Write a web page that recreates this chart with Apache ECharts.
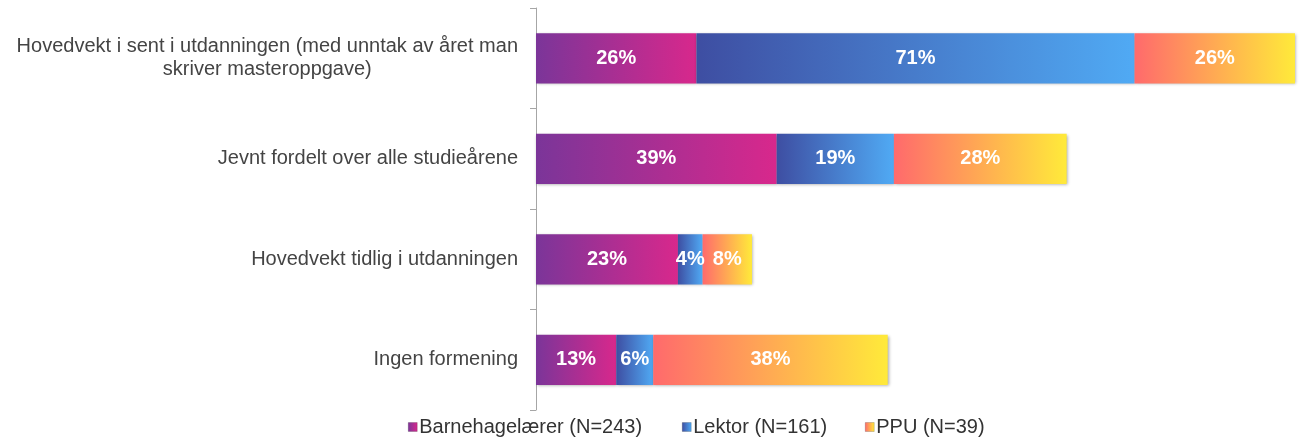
<!DOCTYPE html>
<html>
<head>
<meta charset="utf-8">
<script src="https://cdn.jsdelivr.net/npm/echarts@6/dist/echarts.min.js"></script>
<style>html,body{margin:0;padding:0;background:#fff;}#c{width:1300px;height:440px;}</style>
</head>
<body>
<div id="c"></div>
<script>
const categories = [
  'Hovedvekt i sent i utdanningen (med unntak av året man\nskriver masteroppgave)',
  'Jevnt fordelt over alle studieårene',
  'Hovedvekt tidlig i utdanningen',
  'Ingen formening'
];
const seriesNames = ['Barnehagelærer (N=243)', 'Lektor (N=161)', 'PPU (N=39)'];
const barnehage = [26, 39, 23, 13];
const lektor = [71, 19, 4, 6];
const ppu = [26, 28, 8, 38];

const FONT = 'Liberation Sans, Arial, sans-serif';
const FS = 20;
const canvas = document.createElement('canvas');
const ctx = canvas.getContext('2d');
ctx.font = FS + 'px "Liberation Sans"';
function tw(s){ return ctx.measureText(s).width; }

function grad(c1, c2){
  return new echarts.graphic.LinearGradient(0, 0, 1, 0, [
    {offset: 0, color: c1}, {offset: 1, color: c2}
  ]);
}
const colors = [
  grad('#7B3599', '#D8288C'),
  grad('#3E4EA2', '#50AAF4'),
  grad('#FF6A6C', '#FFEA3A')
];

const chart = echarts.init(document.getElementById('c'), null, {renderer: 'canvas'});
const dataSets = [barnehage, lektor, ppu];
const legendLeft = [403, 677, 860];

const catLines = categories[0].split('\n');
const padB = Math.max(0, (tw(catLines[0]) - tw(catLines[1])) / 2);

const option = {
  animation: false,
  grid: {left: 536, right: 5, top: 8, bottom: 30, containLabel: false},
  legend: seriesNames.map((n, i) => ({
    data: [n],
    left: legendLeft[i],
    top: 412,
    itemWidth: 9,
    itemHeight: 9,
    itemGap: 0,
    icon: 'rect',
    itemStyle: {borderColor: 'rgba(0,0,0,0.35)', borderWidth: 0.5},
    textStyle: {fontFamily: FONT, fontSize: FS, color: '#333', padding: [0,0,0,-3]}
  })),
  xAxis: {type: 'value', min: 0, max: 123, show: false},
  yAxis: {
    type: 'category',
    inverse: true,
    data: categories,
    axisLine: {show: true, lineStyle: {color: '#A6A6A6', width: 1}},
    axisTick: {show: true, length: 6, lineStyle: {color: '#A6A6A6'}},
    axisLabel: {
      margin: 18,
      fontFamily: FONT,
      fontSize: FS,
      color: '#444',
      lineHeight: 23,
      formatter: function(v){
        const parts = v.split('\n');
        if (parts.length === 1) return '{a|' + v + '}';
        return '{a|' + parts[0] + '}\n{b' + '|' + parts[1] + '}';
      },
      rich: {
        a: {fontFamily: FONT, fontSize: FS, color: '#444', lineHeight: 23},
        b: {fontFamily: FONT, fontSize: FS, color: '#444', lineHeight: 23,
            padding: [0, padB, 0, 0]}
      }
    }
  },
  series: dataSets.map((d, i) => ({
    name: seriesNames[i],
    type: 'bar',
    stack: 'total',
    barWidth: '50%',
    data: d,
    itemStyle: {
      color: colors[i],
      shadowColor: 'rgba(0,0,0,0.35)',
      shadowBlur: 3,
      shadowOffsetX: 1,
      shadowOffsetY: 1
    },
    label: {
      show: true,
      position: 'inside',
      formatter: '{c}%',
      color: '#fff',
      fontFamily: FONT,
      fontWeight: 'bold',
      fontSize: 20
    }
  }))
};
chart.setOption(option);
</script>
</body>
</html>
